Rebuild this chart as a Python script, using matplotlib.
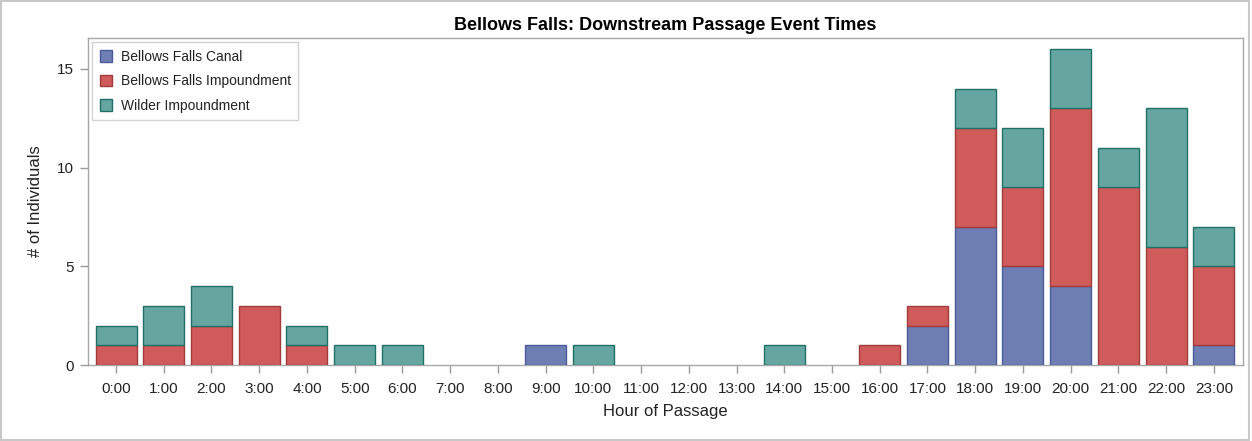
import numpy as np
import matplotlib; matplotlib.use('Agg')
import matplotlib.pyplot as plt
from matplotlib.patches import Patch

plt.rcParams['font.family'] = ['Liberation Sans', 'DejaVu Sans']

# 시간대별 통과 개체 수 (0:00 ~ 23:00)
hours = [f'{h}:00' for h in range(24)]
canal = [0, 0, 0, 0, 0, 0, 0, 0, 0, 1, 0, 0, 0, 0, 0, 0, 0, 2, 7, 5, 4, 0, 0, 1]
bf_imp = [1, 1, 2, 3, 1, 0, 0, 0, 0, 0, 0, 0, 0, 0, 0, 0, 1, 1, 5, 4, 9, 9, 6, 4]
wilder = [1, 2, 2, 0, 1, 1, 1, 0, 0, 0, 1, 0, 0, 0, 1, 0, 0, 0, 2, 3, 3, 2, 7, 2]

series = [
    ('Bellows Falls Canal', canal, '#6F7EB3', '#4A5A9A'),
    ('Bellows Falls Impoundment', bf_imp, '#D05B5B', '#A33B3B'),
    ('Wilder Impoundment', wilder, '#66A6A0', '#1F7068'),
]

fig = plt.figure(figsize=(12.52, 4.41), dpi=100)
ax = fig.add_axes([0.0703, 0.1723, 0.9225, 0.7415])

x = np.arange(len(hours))
bottom = np.zeros(len(hours))
for name, vals, fc, ec in series:
    v = np.array(vals, dtype=float)
    mask = v > 0
    ax.bar(x[mask], v[mask], bottom=bottom[mask], width=0.86,
           color=fc, edgecolor=ec, linewidth=1.0, zorder=3)
    bottom += v

ax.set_xlim(-0.587, 23.61)
ax.set_ylim(0, 16.57)
ax.set_xticks(x)
ax.set_xticklabels(hours)
ax.set_yticks([0, 5, 10, 15])
ax.tick_params(axis='both', colors='#9a9a9a', labelcolor='#222222',
               labelsize=11, length=6, width=1)
ax.tick_params(axis='x', pad=6)
ax.tick_params(axis='y', pad=4)
for s in ax.spines.values():
    s.set_color('#a8a8a8')
    s.set_linewidth(1)

ax.set_xlabel('Hour of Passage', fontsize=12, color='#222222', labelpad=6)
ax.set_ylabel('# of Individuals', fontsize=12, color='#222222', labelpad=10)
ax.set_title('Bellows Falls: Downstream Passage Event Times',
             fontsize=13, fontweight='bold', pad=6)

handles = [Patch(facecolor=fc, edgecolor=ec, label=name) for name, _, fc, ec in series]
leg = ax.legend(handles=handles, loc='upper left', fontsize=10,
                frameon=True, fancybox=False, edgecolor='#c8c8c8',
                handlelength=0.9, handleheight=0.9, handletextpad=0.6,
                borderaxespad=0.3, labelspacing=0.75, borderpad=0.55)
leg.get_frame().set_linewidth(1)
for t in leg.get_texts():
    t.set_color('#222222')

fig.patches.append(plt.Rectangle((0.001, 0.002), 0.997, 0.995, transform=fig.transFigure,
                                 fill=False, edgecolor='#c8c8c8', linewidth=1.5))

fig.savefig('out.png', dpi=100)
